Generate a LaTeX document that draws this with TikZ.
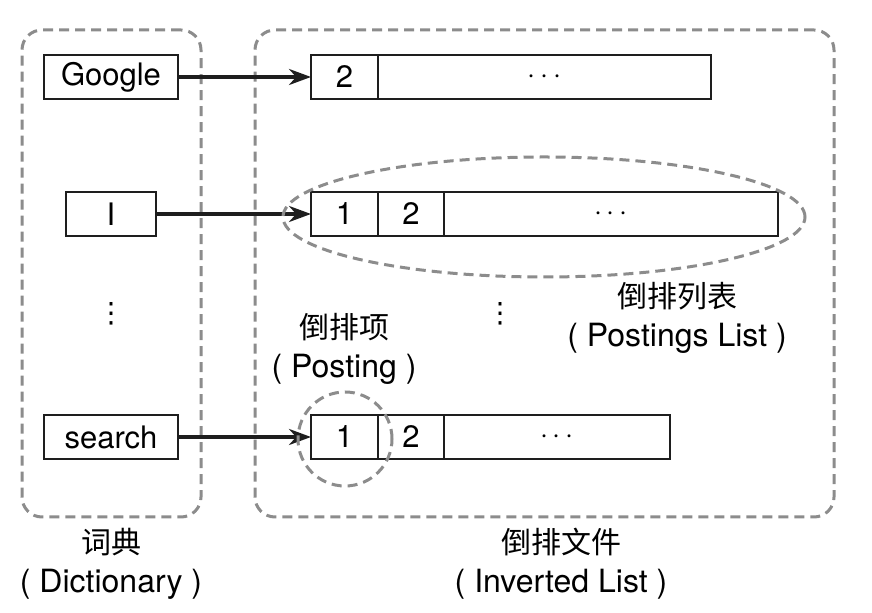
\documentclass[tikz,border=0pt]{standalone}
\usepackage{fontspec}
\setmainfont{TeX Gyre Heros}
\newfontfamily\cjk{Noto Sans CJK SC}
\newfontfamily\symf{DejaVu Sans}
\usetikzlibrary{arrows.meta,positioning}
\definecolor{dashgray}{RGB}{140,140,140}
\definecolor{inkblack}{RGB}{30,30,30}

\begin{document}
\begin{tikzpicture}[
    x=0.5pt, y=-0.5pt,
    cell/.style={draw=inkblack, line width=1pt, minimum height=22pt,
                 inner sep=0pt, outer sep=0pt, font=\fontsize{15.5}{17}\selectfont},
    term/.style={cell, minimum width=67pt},
    frm/.style={draw=dashgray, line width=1.5pt, dash pattern=on 5pt off 3pt,
                rounded corners=10pt, inner sep=0pt},
    grp/.style={draw=dashgray, line width=1.5pt, dash pattern=on 5pt off 3pt},
    arr/.style={-{Stealth[length=11pt,width=8pt]}, line width=1.8pt, inkblack},
    lbl/.style={align=center, font=\fontsize{16}{19.5}\selectfont, inner sep=0pt},
    vdot/.style={font=\symf\fontsize{14}{14}\selectfont, inner sep=0pt}
  ]
  \useasboundingbox (0,0) rectangle (872,613);
  % --- frames ---
  \node[frm, minimum width=89.5pt, minimum height=243.5pt] (dictfrm) at (111.5,273.5) {};
  \node[frm, minimum width=289.5pt, minimum height=243.5pt] (invfrm) at (544.5,273.5) {};
  % --- dictionary terms ---
  \node[term] (google) at (111,77) {Google};
  \node[cell, minimum width=45pt] (iterm) at (111,214) {I};
  \node[term] (search) at (111,437) {search};
  \node[vdot] (ddots) at (111,314) {⋮};
  % --- postings lists ---
  \node[cell, minimum width=33.5pt] (ga) at (344.5,77) {2};
  \node[cell, minimum width=166.5pt, right=0pt of ga] (gz) {$\cdots$};
  \node[cell, minimum width=33.5pt] (ia) at (344.5,214) {1};
  \node[cell, minimum width=33pt, right=0pt of ia] (ib) {2};
  \node[cell, minimum width=167pt, right=0pt of ib] (iz) {$\cdots$};
  \node[cell, minimum width=33.5pt] (sa) at (344.5,437) {1};
  \node[cell, minimum width=33pt, right=0pt of sa] (sb) {2};
  \node[cell, minimum width=113pt, right=0pt of sb] (sz) {$\cdots$};
  \node[vdot] (pdots) at (500,314) {⋮};
  % --- links ---
  \draw[arr] (google) -- (ga);
  \draw[arr] (iterm) -- (ia);
  \draw[arr] (search) -- (sa);
  % --- highlights ---
  \draw[grp] (544,217) ellipse [x radius=130.5pt, y radius=30pt];
  \draw[grp] (345,439) circle [radius=23.5pt];
  % --- labels ---
  \node[lbl] (plist) at (677,318) {{\cjk\fontsize{15}{19.5}\selectfont 倒排列表}\\( Postings List )};
  \node[lbl] (posting) at (344,349) {{\cjk\fontsize{15}{19.5}\selectfont 倒排项}\\( Posting )};
  \node[lbl] (dictlbl) at (111,564) {{\cjk\fontsize{15}{19.5}\selectfont 词典}\\( Dictionary )};
  \node[lbl] (invlbl) at (561,564) {{\cjk\fontsize{15}{19.5}\selectfont 倒排文件}\\( Inverted List )};
\end{tikzpicture}
\end{document}
